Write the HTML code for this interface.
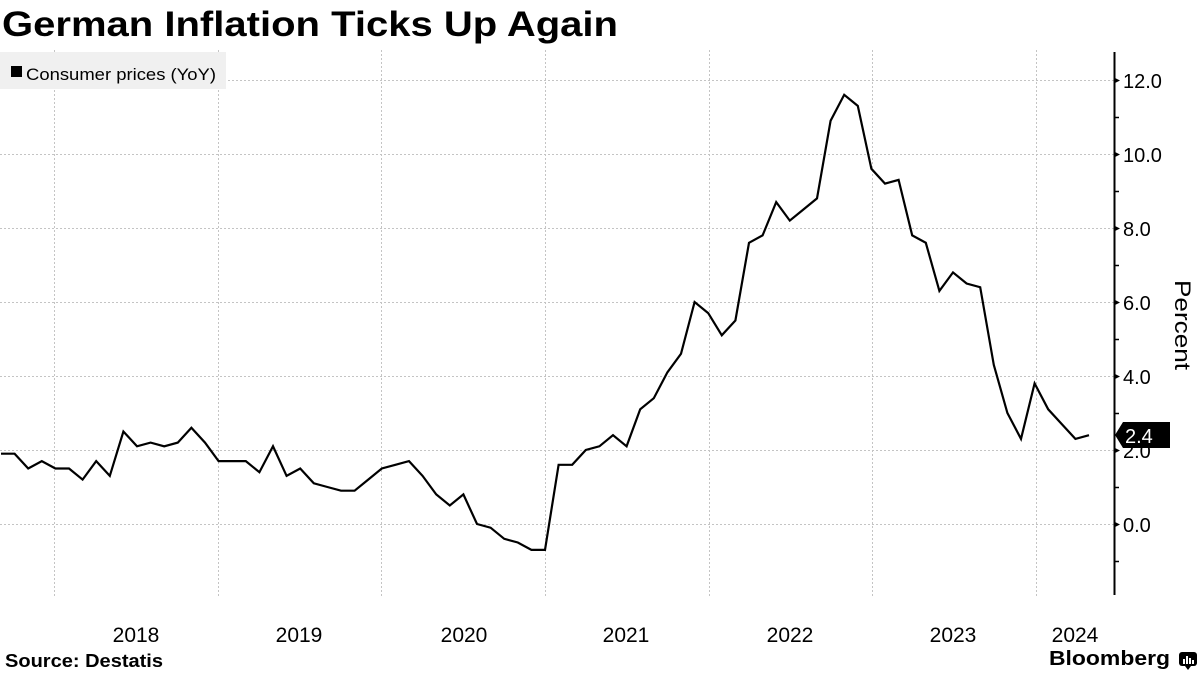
<!DOCTYPE html>
<html>
<head>
<meta charset="utf-8">
<style>
html,body{margin:0;padding:0;background:#fff;}
svg{display:block;}
text{font-family:"Liberation Sans",Arial,sans-serif;}
</style>
</head>
<body>
<svg width="1200" height="675" viewBox="0 0 1200 675" xmlns="http://www.w3.org/2000/svg">
<rect width="1200" height="675" fill="#fff"/>
<!-- Title -->
<text x="2" y="36" font-size="35" font-weight="bold" fill="#000" textLength="616" lengthAdjust="spacingAndGlyphs">German Inflation Ticks Up Again</text>

<!-- horizontal gridlines -->
<g stroke="#c4c4c4" stroke-width="1" stroke-dasharray="2,2">
<line x1="0" y1="80.5" x2="1114" y2="80.5"/>
<line x1="0" y1="154.5" x2="1114" y2="154.5"/>
<line x1="0" y1="228.5" x2="1114" y2="228.5"/>
<line x1="0" y1="302.5" x2="1114" y2="302.5"/>
<line x1="0" y1="376.5" x2="1114" y2="376.5"/>
<line x1="0" y1="450.5" x2="1114" y2="450.5"/>
<line x1="0" y1="524.5" x2="1114" y2="524.5"/>
</g>
<!-- vertical gridlines -->
<g stroke="#c4c4c4" stroke-width="1" stroke-dasharray="2,2">
<line x1="54.5" y1="50" x2="54.5" y2="598"/>
<line x1="218.5" y1="50" x2="218.5" y2="598"/>
<line x1="381.5" y1="50" x2="381.5" y2="598"/>
<line x1="545.5" y1="50" x2="545.5" y2="598"/>
<line x1="709.5" y1="50" x2="709.5" y2="598"/>
<line x1="872.5" y1="50" x2="872.5" y2="598"/>
<line x1="1036.5" y1="50" x2="1036.5" y2="598"/>
</g>

<!-- Legend -->
<rect x="0" y="52" width="226" height="37" fill="#f0f0f0"/>
<rect x="11" y="66" width="11" height="11" fill="#000"/>
<text x="26" y="80" font-size="17" fill="#000" textLength="190" lengthAdjust="spacingAndGlyphs">Consumer prices (YoY)</text>

<!-- Axis -->
<line x1="1114.5" y1="52" x2="1114.5" y2="595" stroke="#000" stroke-width="2"/>
<g stroke="#000" stroke-width="1.5">
<line x1="1114" y1="117.5" x2="1119" y2="117.5"/>
<line x1="1114" y1="191.5" x2="1119" y2="191.5"/>
<line x1="1114" y1="265.5" x2="1119" y2="265.5"/>
<line x1="1114" y1="339.5" x2="1119" y2="339.5"/>
<line x1="1114" y1="413.5" x2="1119" y2="413.5"/>
<line x1="1114" y1="487.5" x2="1119" y2="487.5"/>
<line x1="1114" y1="561.5" x2="1119" y2="561.5"/>
</g>
<g fill="#000">
<polygon points="1114,77.5 1120,80.5 1114,83.5"/>
<polygon points="1114,151.5 1120,154.5 1114,157.5"/>
<polygon points="1114,225.5 1120,228.5 1114,231.5"/>
<polygon points="1114,299.5 1120,302.5 1114,305.5"/>
<polygon points="1114,373.5 1120,376.5 1114,379.5"/>
<polygon points="1114,447.5 1120,450.5 1114,453.5"/>
<polygon points="1114,521.5 1120,524.5 1114,527.5"/>
</g>
<g font-size="20" fill="#000">
<text x="1123" y="88">12.0</text>
<text x="1123" y="162">10.0</text>
<text x="1123" y="236">8.0</text>
<text x="1123" y="310">6.0</text>
<text x="1123" y="384">4.0</text>
<text x="1123" y="458">2.0</text>
<text x="1123" y="532">0.0</text>
</g>
<text transform="translate(1175,325) rotate(90)" text-anchor="middle" font-size="22" fill="#000" textLength="90" lengthAdjust="spacingAndGlyphs">Percent</text>

<!-- Data line -->
<polyline fill="none" stroke="#000" stroke-width="2.2" stroke-linejoin="miter" points="
1,453.7 14.6,453.7 28.2,468.5 41.8,461.1 55.4,468.5 69,468.5 82.6,479.6 96.2,461.1 109.8,475.9 123.4,431.5
137,446.3 150.6,442.6 164.2,446.3 177.8,442.6 191.4,427.8 205,442.6 218.6,461.1 232.2,461.1 245.8,461.1 259.4,472.2
273,446.3 286.6,475.9 300.2,468.5 313.8,483.3 327.4,487 341,490.7 354.6,490.7 368.2,479.6 381.8,468.5 395.4,464.8
409,461.1 422.6,475.9 436.2,494.4 449.8,505.5 463.4,494.4 477,524 490.6,527.7 504.2,538.8 517.8,542.5 531.4,549.9
545,549.9 558.6,464.8 572.2,464.8 585.8,450 599.4,446.3 613,435.2 626.6,446.3 640.2,409.3 653.8,398.2 667.4,372.3
681,353.8 694.6,302 708.2,313.1 721.8,335.3 735.4,320.5 749,242.8 762.6,235.4 776.2,202.1 789.8,220.6 803.4,209.5
817,198.4 830.6,120.7 844.2,94.8 857.8,105.9 871.4,168.8 885,183.6 898.6,179.9 912.2,235.4 925.8,242.8 939.4,290.9
953,272.4 966.6,283.5 980.2,287.2 993.8,364.9 1007.4,413 1021,438.9 1034.6,383.4 1048.2,409.3 1061.8,424.1 1075.4,438.9
1089,435.2"/>

<!-- Last value label -->
<polygon points="1115,435 1123,422 1170,422 1170,448 1123,448" fill="#000"/>
<text x="1125" y="443" font-size="20" fill="#fff">2.4</text>

<!-- X axis labels -->
<g font-size="21" fill="#000" text-anchor="middle">
<text x="136" y="642">2018</text>
<text x="299" y="642">2019</text>
<text x="464" y="642">2020</text>
<text x="626" y="642">2021</text>
<text x="790" y="642">2022</text>
<text x="953" y="642">2023</text>
<text x="1075" y="642">2024</text>
</g>

<!-- Footer -->
<text x="5" y="667" font-size="18" font-weight="bold" fill="#000" textLength="158" lengthAdjust="spacingAndGlyphs">Source:  Destatis</text>
<text x="1049" y="665" font-size="20" font-weight="bold" fill="#000" textLength="121" lengthAdjust="spacingAndGlyphs">Bloomberg</text>
<g>
<rect x="1179" y="652" width="18" height="14" rx="3" fill="#000"/>
<polygon points="1185,666 1188,670 1191,666" fill="#000"/>
<rect x="1183" y="659" width="2" height="5" fill="#fff"/>
<rect x="1186" y="656" width="2" height="8" fill="#fff"/>
<rect x="1189" y="658" width="2" height="6" fill="#fff"/>
<rect x="1192" y="660" width="2" height="4" fill="#fff"/>
</g>
</svg>
</body>
</html>
